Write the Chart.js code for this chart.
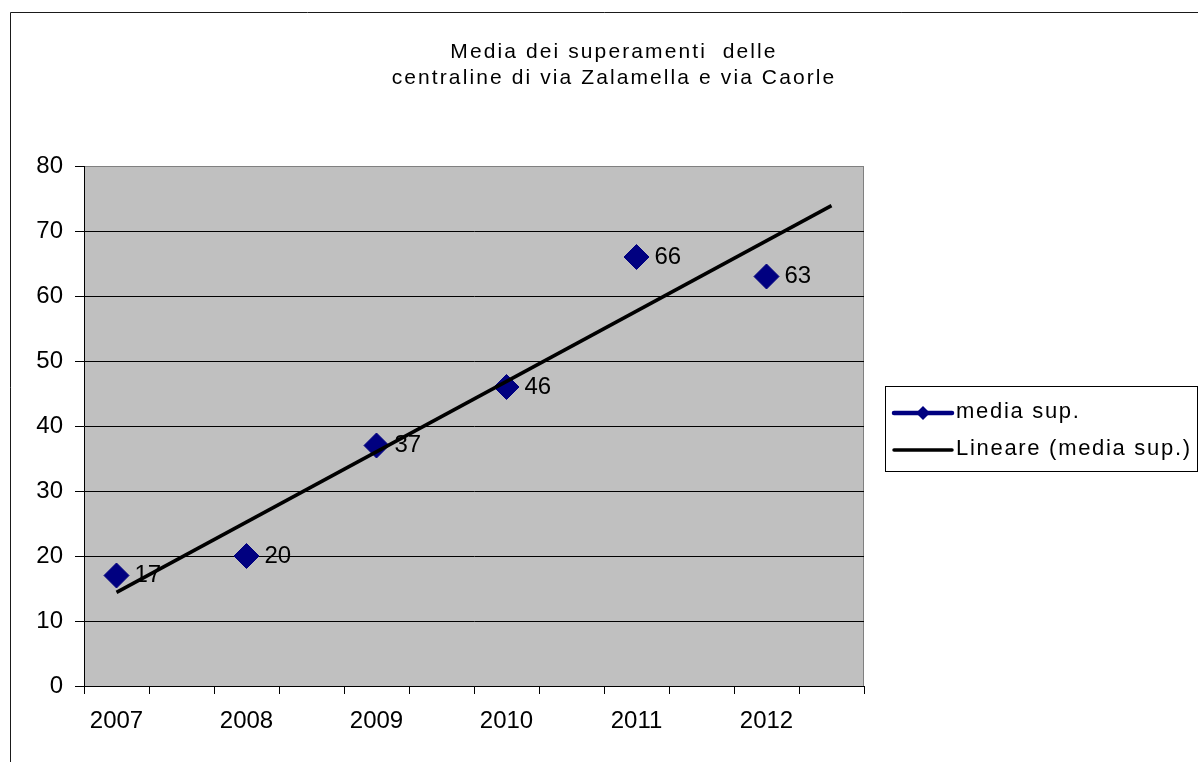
<!DOCTYPE html>
<html>
<head>
<meta charset="utf-8">
<script src="https://cdn.jsdelivr.net/npm/chart.js@4/dist/chart.umd.min.js"></script>
<style>
  html, body { margin: 0; padding: 0; background: #fff; }
  canvas { display: block; }
</style>
</head>
<body>
<canvas id="c" width="1198" height="762"></canvas>
<script>
// ---- data ----
const titleLines = ['Media dei superamenti  delle', 'centraline di via Zalamella e via Caorle'];
const years = ['2007', '2008', '2009', '2010', '2011', '2012'];
const mediaSup = [17, 20, 37, 46, 66, 63];
// linear trend: value at 2007 and at the forecast end (half a year after 2012)
const trendValues = [14.4, 73.9];
const yTicks = [0, 10, 20, 30, 40, 50, 60, 70, 80];
const seriesLabels = ['media sup.', 'Lineare (media sup.)'];

// ---- style ----
const FONT = "'Liberation Sans', Arial, sans-serif";
const NAVY = '#000080';
const PLOT_BG = '#C0C0C0';
const PLOT_EDGE = '#808080';

// the x axis has two slots per year: the year itself and a blank slot
const SLOT_COUNT = years.length * 2;
const slotOfYear = i => 2 * i + 1;
const slotValues = Array.from({ length: SLOT_COUNT }, (_, k) => k + 1);

const pointData = years.map((_, i) => ({ x: slotOfYear(i), y: mediaSup[i] }));
const trendData = [
  { x: slotOfYear(0), y: trendValues[0] },
  { x: SLOT_COUNT, y: trendValues[1] }
];

// outer frame, plot background and plot edge
const framePlugin = {
  id: 'frame',
  beforeDraw(chart) {
    const { ctx, chartArea: a } = chart;
    ctx.save();
    ctx.fillStyle = '#fff';
    ctx.fillRect(0, 0, chart.width, chart.height);
    ctx.strokeStyle = '#1a1a1a';
    ctx.lineWidth = 1;
    ctx.beginPath();
    ctx.moveTo(10.5, chart.height);
    ctx.lineTo(10.5, 12.5);
    ctx.lineTo(chart.width, 12.5);
    ctx.stroke();
    ctx.fillStyle = PLOT_BG;
    ctx.fillRect(a.left, a.top, a.right - a.left, a.bottom - a.top);
    ctx.strokeStyle = PLOT_EDGE;
    ctx.beginPath();
    ctx.moveTo(a.left, a.top + 0.5);
    ctx.lineTo(a.right - 0.5, a.top + 0.5);
    ctx.lineTo(a.right - 0.5, a.bottom);
    ctx.stroke();
    ctx.restore();
  }
};

// two-line title with wide letter spacing
const titlePlugin = {
  id: 'twoLineTitle',
  afterDraw(chart) {
    const { ctx } = chart;
    ctx.save();
    ctx.font = '21px ' + FONT;
    ctx.fillStyle = '#000';
    ctx.textAlign = 'center';
    ctx.textBaseline = 'alphabetic';
    if ('letterSpacing' in ctx) ctx.letterSpacing = '2.1px';
    const cx = 614;
    const baselines = [58, 84];
    titleLines.forEach((t, i) => ctx.fillText(t, cx, baselines[i]));
    ctx.restore();
  }
};

// value labels to the right of each marker
const valueLabelPlugin = {
  id: 'valueLabels',
  afterDatasetsDraw(chart) {
    const { ctx } = chart;
    const meta = chart.getDatasetMeta(0);
    const values = chart.data.datasets[0].data;
    ctx.save();
    ctx.font = '24px ' + FONT;
    ctx.fillStyle = '#000';
    ctx.textAlign = 'left';
    ctx.textBaseline = 'middle';
    meta.data.forEach((el, i) => {
      ctx.fillText(String(values[i].y), el.x + 18, el.y);
    });
    ctx.restore();
  }
};

// boxed legend on the right
const boxLegendPlugin = {
  id: 'boxLegend',
  afterDraw(chart) {
    const { ctx } = chart;
    const ds = chart.data.datasets;
    const box = { x: 885.5, y: 386.5, w: 312, h: 85 };
    ctx.save();
    ctx.strokeStyle = '#000';
    ctx.lineWidth = 1;
    ctx.strokeRect(box.x, box.y, box.w, box.h);

    // series marker: thick navy line with a diamond
    ctx.lineCap = 'round';
    ctx.strokeStyle = ds[0].borderColor;
    ctx.lineWidth = 4.5;
    ctx.beginPath();
    ctx.moveTo(894, 413);
    ctx.lineTo(952, 413);
    ctx.stroke();
    ctx.fillStyle = ds[0].backgroundColor;
    ctx.beginPath();
    ctx.moveTo(923 - 7, 413);
    ctx.lineTo(923, 413 - 7);
    ctx.lineTo(923 + 7, 413);
    ctx.lineTo(923, 413 + 7);
    ctx.closePath();
    ctx.fill();

    // trend line marker
    ctx.strokeStyle = ds[1].borderColor;
    ctx.lineWidth = 3.5;
    ctx.beginPath();
    ctx.moveTo(894, 450);
    ctx.lineTo(952, 450);
    ctx.stroke();

    ctx.font = '22px ' + FONT;
    ctx.fillStyle = '#000';
    ctx.textAlign = 'left';
    ctx.textBaseline = 'alphabetic';
    if ('letterSpacing' in ctx) ctx.letterSpacing = '1.7px';
    ctx.fillText(ds[0].label, 956, 418);
    ctx.fillText(ds[1].label, 956, 455);
    ctx.restore();
  }
};

new Chart(document.getElementById('c'), {
  type: 'scatter',
  data: {
    datasets: [
      {
        label: seriesLabels[0],
        data: pointData,
        showLine: false,
        pointStyle: 'rectRot',
        pointRadius: 12.5,
        pointHoverRadius: 12.5,
        borderWidth: 1,
        backgroundColor: NAVY,
        borderColor: NAVY,
        order: 1
      },
      {
        label: seriesLabels[1],
        type: 'line',
        data: trendData,
        borderColor: '#000',
        backgroundColor: '#000',
        borderWidth: 3.5,
        pointRadius: 0,
        pointHoverRadius: 0,
        fill: false,
        order: 0
      }
    ]
  },
  options: {
    responsive: false,
    animation: false,
    devicePixelRatio: 1,
    events: [],
    layout: { padding: { left: 10, top: 166, right: 334, bottom: 0 } },
    plugins: {
      legend: { display: false },
      title: { display: false },
      tooltip: { enabled: false }
    },
    scales: {
      x: {
        type: 'linear',
        min: 0.5,
        max: SLOT_COUNT + 0.5,
        afterBuildTicks(scale) {
          scale.ticks = slotValues.map(v => ({ value: v }));
        },
        afterFit(scale) { scale.height = 76; },
        ticks: {
          autoSkip: false,
          maxRotation: 0,
          padding: 13,
          color: '#000',
          font: { family: FONT, size: 24 },
          callback(value) {
            return value % 2 === 1 ? years[(value - 1) / 2] : '';
          }
        },
        grid: {
          offset: true,
          drawOnChartArea: false,
          drawTicks: true,
          tickLength: 8,
          color: '#000',
          tickColor: '#000'
        },
        border: { display: true, color: '#000', width: 1 }
      },
      y: {
        type: 'linear',
        min: yTicks[0],
        max: yTicks[yTicks.length - 1],
        afterBuildTicks(scale) {
          scale.ticks = yTicks.map(v => ({ value: v }));
        },
        afterFit(scale) { scale.width = 74; },
        ticks: {
          padding: 12,
          color: '#000',
          font: { family: FONT, size: 24 }
        },
        grid: {
          drawTicks: true,
          tickLength: 9,
          color: c => (c.tick && c.tick.value === yTicks[yTicks.length - 1]) ? PLOT_EDGE : '#000',
          tickColor: '#000',
          lineWidth: 1
        },
        border: { display: true, color: '#000', width: 1 }
      }
    }
  },
  plugins: [framePlugin, valueLabelPlugin, boxLegendPlugin, titlePlugin]
});
</script>
</body>
</html>
